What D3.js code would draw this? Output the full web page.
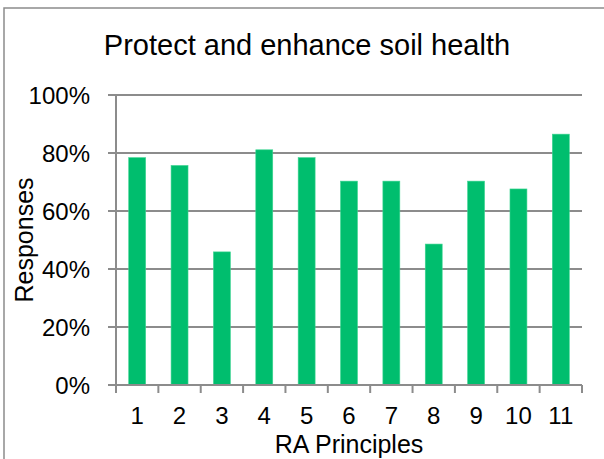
<!DOCTYPE html>
<html>
<head>
<meta charset="utf-8">
<script src="https://cdn.jsdelivr.net/npm/d3@7"></script>
<style>
html,body{margin:0;padding:0;background:#fff;}
svg{display:block;font-family:"Liberation Sans",Arial,sans-serif;}
</style>
</head>
<body>
<script>
const categories = ["1","2","3","4","5","6","7","8","9","10","11"];
const values = [0.784, 0.757, 0.459, 0.811, 0.784, 0.703, 0.703, 0.486, 0.703, 0.676, 0.865];
const yTicks = [0, 0.2, 0.4, 0.6, 0.8, 1.0];
const title = "Protect and enhance soil health";
const xTitle = "RA Principles";
const yTitle = "Responses";

(function () {
const W = 604, H = 459;
const svg = d3.select("body").append("svg").attr("width", W).attr("height", H);

// chart border (extends beyond the visible window)
svg.append("rect").attr("x", 4).attr("y", 8).attr("width", 700).attr("height", 500)
  .attr("fill", "none").attr("stroke", "#8c8c8c").attr("stroke-width", 1.5);

const pL = 116, pR = 582, pT = 95, pB = 385;
const x = d3.scaleBand().domain(categories).range([pL, pR]).paddingInner(0.6).paddingOuter(0.3);
const xEdge = d3.scaleLinear().domain([0, categories.length]).range([pL, pR]);
const y = d3.scaleLinear().domain([0, 1]).range([pB, pT]);

const gridColor = "#8c8c8c";

// gridlines
svg.append("g").selectAll("line").data(yTicks).join("line")
  .attr("x1", pL - 8).attr("x2", pR)
  .attr("y1", d => y(d)).attr("y2", d => y(d))
  .attr("stroke", gridColor).attr("stroke-width", 2);

// y axis line
svg.append("line").attr("x1", pL).attr("x2", pL).attr("y1", pT).attr("y2", pB)
  .attr("stroke", gridColor).attr("stroke-width", 2);

// x tick marks at category boundaries
svg.append("g").selectAll("line").data(d3.range(categories.length + 1)).join("line")
  .attr("x1", d => xEdge(d)).attr("x2", d => xEdge(d))
  .attr("y1", pB).attr("y2", pB + 8)
  .attr("stroke", gridColor).attr("stroke-width", 2);

// bars
svg.append("g").selectAll("rect").data(values).join("rect")
  .attr("x", (d, i) => x(categories[i]))
  .attr("width", x.bandwidth())
  .attr("y", d => y(d))
  .attr("height", d => y(0) - y(d))
  .attr("fill", "#00BE6E")
  .attr("stroke", "#3ed592").attr("stroke-width", 0.6);

// x axis line on top
svg.append("line").attr("x1", pL).attr("x2", pR).attr("y1", pB).attr("y2", pB)
  .attr("stroke", gridColor).attr("stroke-width", 2);

// y tick labels
svg.append("g").selectAll("text").data(yTicks).join("text")
  .attr("x", 90).attr("y", d => y(d) + 8.5)
  .attr("text-anchor", "end").attr("font-size", 24).attr("fill", "#000")
  .text(d => d3.format(".0%")(d));

// x tick labels
svg.append("g").selectAll("text").data(categories).join("text")
  .attr("x", d => x(d) + x.bandwidth() / 2).attr("y", 424)
  .attr("text-anchor", "middle").attr("font-size", 24).attr("fill", "#000")
  .text(d => d);

// axis titles
svg.append("text").attr("x", (pL + pR) / 2).attr("y", 453)
  .attr("text-anchor", "middle").attr("font-size", 25).attr("fill", "#000").text(xTitle);
svg.append("text").attr("transform", `translate(33,${(pT + pB) / 2}) rotate(-90)`)
  .attr("text-anchor", "middle").attr("font-size", 25).attr("fill", "#000").text(yTitle);

// title
svg.append("text").attr("x", 307).attr("y", 55)
  .attr("text-anchor", "middle").attr("font-size", 29).attr("fill", "#000").text(title);
})();
</script>
</body>
</html>
